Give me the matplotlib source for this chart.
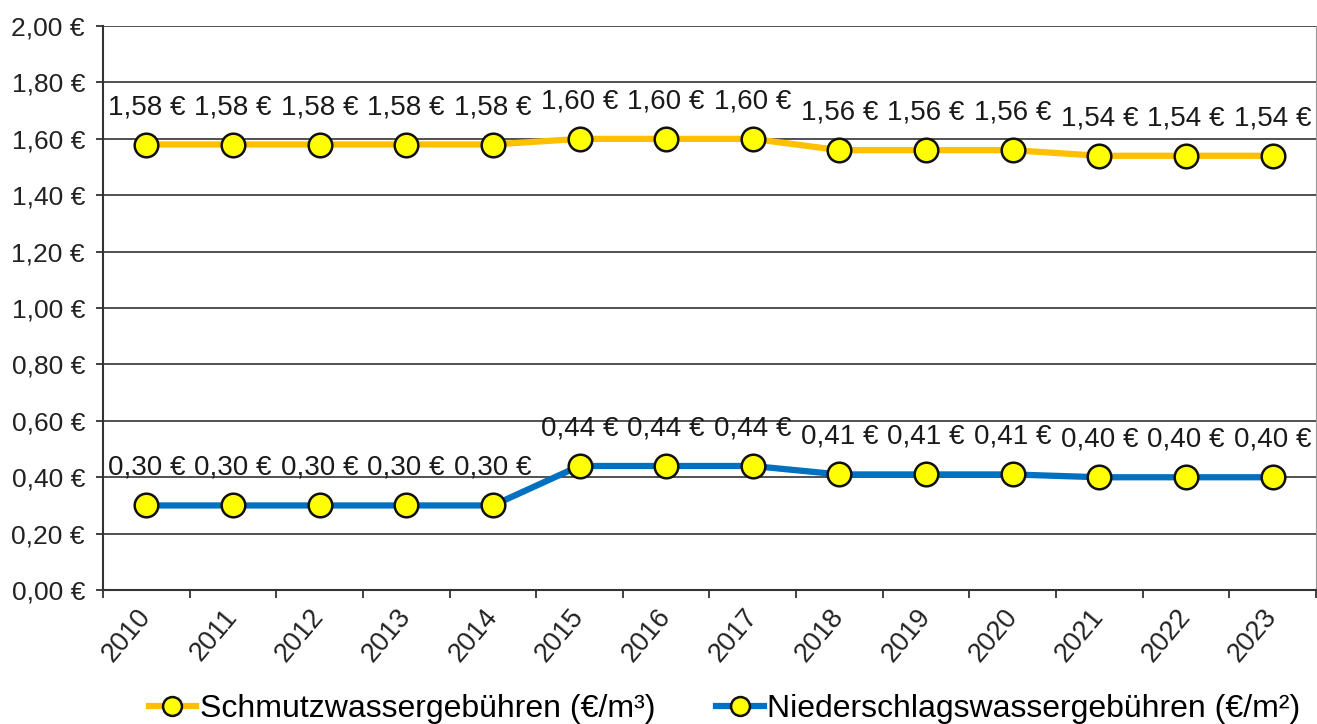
import matplotlib.pyplot as plt
import numpy as np

plt.rcParams['font.family'] = ['Liberation Sans', 'DejaVu Sans']

years = [str(y) for y in range(2010, 2024)]
schmutz = [1.58, 1.58, 1.58, 1.58, 1.58, 1.60, 1.60, 1.60, 1.56, 1.56, 1.56, 1.54, 1.54, 1.54]
niederschlag = [0.30, 0.30, 0.30, 0.30, 0.30, 0.44, 0.44, 0.44, 0.41, 0.41, 0.41, 0.40, 0.40, 0.40]
series_names = ["Schmutzwassergebühren (€/m³)", "Niederschlagswassergebühren (€/m²)"]
yticks = [0.0, 0.2, 0.4, 0.6, 0.8, 1.0, 1.2, 1.4, 1.6, 1.8, 2.0]


def euro(v):
    return f"{v:.2f}".replace(".", ",") + " €"


def main():
    fig = plt.figure(figsize=(13.17, 7.24), dpi=100)
    ax = fig.add_axes([0.0782, 0.185, 0.921, 0.779])
    x = np.arange(len(years))

    for vals, col, name in [(schmutz, "#FFC000", series_names[0]),
                            (niederschlag, "#0070C0", series_names[1])]:
        ax.plot(x, vals, color=col, lw=4.5, marker="o", ms=17, mfc="#FFFF00",
                mec="#111111", mew=1.8, label=name, zorder=3)
        for xi, v in zip(x, vals):
            ax.annotate(euro(v), (xi, v), xytext=(0, 27), textcoords="offset points",
                        ha="center", va="center", fontsize=20, color="#1a1a1a", zorder=4)

    ax.set_xlim(-0.5, len(years) - 0.5)
    ax.set_ylim(0, 2.0)
    ax.set_yticks(yticks)
    ax.set_yticklabels([euro(v) for v in yticks], fontsize=19, color="#222222")
    ax.set_xticks(x)
    ax.set_xticklabels(years, rotation=50, ha="right", va="center",
                       rotation_mode="anchor", fontsize=19.5, color="#222222")
    ax.set_xticks(np.arange(-0.5, len(years)), minor=True)
    ax.tick_params(axis="x", which="major", length=0, pad=16)
    ax.tick_params(axis="x", which="minor", length=6, width=1.3, color="#333333")
    ax.tick_params(axis="y", length=5, width=1.3, color="#333333", pad=8)

    ax.grid(axis="y", color="#222222", lw=1.1, zorder=1)
    ax.set_axisbelow(True)
    ax.spines["top"].set_visible(False)
    ax.spines["right"].set_color("#999999")
    ax.spines["left"].set_color("#333333")
    ax.spines["left"].set_linewidth(1.5)
    ax.spines["bottom"].set_color("#333333")
    ax.spines["bottom"].set_linewidth(1.5)

    fig.legend(loc="lower center", bbox_to_anchor=(0.55, -0.04), ncol=2, frameon=False,
               fontsize=23, handlelength=1.5, handletextpad=0.1, columnspacing=1.9,
               markerscale=0.8)

    plt.savefig("out.png", dpi=100)


if __name__ == "__main__":
    main()
